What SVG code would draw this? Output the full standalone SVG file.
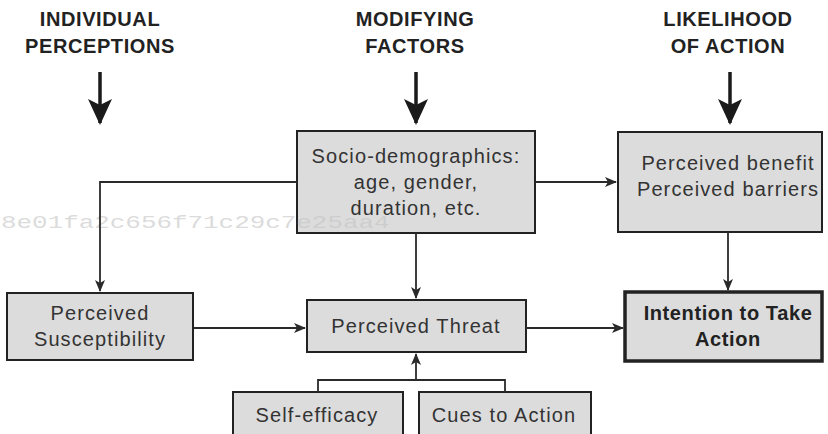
<svg xmlns="http://www.w3.org/2000/svg" width="828" height="434" viewBox="0 0 828 434">
  <defs>
    <style>
      .box { fill: #dcdcdc; stroke: #222; stroke-width: 2; }
      .box-strong { fill: #dcdcdc; stroke: #222; stroke-width: 3.5; }
      .lbl { font-family: "Liberation Sans", Arial, sans-serif; font-size: 20px; fill: #333; text-anchor: middle; letter-spacing: 1.1px; }
      .lbl-bold { font-family: "Liberation Sans", Arial, sans-serif; font-size: 20px; font-weight: bold; fill: #222; text-anchor: middle; letter-spacing: 0.6px; }
      .head { font-family: "Liberation Sans", Arial, sans-serif; font-size: 20px; font-weight: bold; fill: #222; text-anchor: middle; letter-spacing: 0.6px; }
      .wire { fill: none; stroke: #2a2a2a; stroke-width: 1.8; }
      .big { fill: none; stroke: #1a1a1a; stroke-width: 3.5; }
      .mark { font-family: "Liberation Mono", "Courier New", monospace; font-size: 18px; fill: #c4c4c4; fill-opacity: 0.6; }
    </style>
    <marker id="arr" markerWidth="12" markerHeight="10" refX="11" refY="5" orient="auto" markerUnits="userSpaceOnUse">
      <path d="M0,0 L12,5 L0,10 L3,5 Z" fill="#2a2a2a"/>
    </marker>
    <marker id="arrBig" markerWidth="26" markerHeight="24" refX="24" refY="12" orient="auto" markerUnits="userSpaceOnUse">
      <path d="M0,0 L26,12 L0,24 L6,12 Z" fill="#1a1a1a"/>
    </marker>
  </defs>

  <rect width="828" height="434" fill="#fff"/>

  <!-- column headings -->
  <g id="heading-individual">
    <text class="head" x="100" y="26">INDIVIDUAL</text>
    <text class="head" x="100" y="53">PERCEPTIONS</text>
  </g>
  <g id="heading-modifying">
    <text class="head" x="415" y="26">MODIFYING</text>
    <text class="head" x="415" y="53">FACTORS</text>
  </g>
  <g id="heading-likelihood">
    <text class="head" x="728" y="26">LIKELIHOOD</text>
    <text class="head" x="728" y="53">OF ACTION</text>
  </g>

  <!-- nodes -->
  <g id="socio-demographics">
    <rect class="box" x="297" y="131" width="238" height="102"/>
    <text class="lbl" x="416" y="163">Socio-demographics:</text>
    <text class="lbl" x="416" y="189">age, gender,</text>
    <text class="lbl" x="416" y="215">duration, etc.</text>
  </g>
  <g id="benefits-barriers">
    <rect class="box" x="618" y="132" width="204" height="100"/>
    <text class="lbl" x="728" y="170">Perceived benefit</text>
    <text class="lbl" x="728" y="196">Perceived barriers</text>
  </g>
  <g id="susceptibility">
    <rect class="box" x="7" y="293" width="186" height="67"/>
    <text class="lbl" x="100" y="320">Perceived</text>
    <text class="lbl" x="100" y="346">Susceptibility</text>
  </g>
  <g id="threat">
    <rect class="box" x="307" y="300" width="219" height="52"/>
    <text class="lbl" x="416" y="333">Perceived Threat</text>
  </g>
  <g id="intention">
    <rect class="box-strong" x="625" y="292" width="197" height="69"/>
    <text class="lbl-bold" x="728" y="320">Intention to Take</text>
    <text class="lbl-bold" x="728" y="346">Action</text>
  </g>
  <g id="self-efficacy">
    <rect class="box" x="233" y="392" width="170" height="50"/>
    <text class="lbl" x="317" y="422">Self-efficacy</text>
  </g>
  <g id="cues-to-action">
    <rect class="box" x="419" y="392" width="172" height="50"/>
    <text class="lbl" x="504" y="422">Cues to Action</text>
  </g>

  <!-- faint identifier string, lying over the upper box edge -->
  <text class="mark" transform="translate(1,228) scale(1.44,1)" x="0" y="0">8e01fa2c656f71c29c7e25aa4</text>

  <!-- connectors -->
  <g id="connectors">
    <line class="big" x1="100" y1="72" x2="100" y2="123" marker-end="url(#arrBig)"/>
    <line class="big" x1="416" y1="72" x2="416" y2="123" marker-end="url(#arrBig)"/>
    <line class="big" x1="730" y1="72" x2="730" y2="123" marker-end="url(#arrBig)"/>

    <polyline class="wire" points="297,182 100,182 100,291" marker-end="url(#arr)"/>
    <line class="wire" x1="535" y1="182" x2="616" y2="182" marker-end="url(#arr)"/>
    <line class="wire" x1="416" y1="233" x2="416" y2="298" marker-end="url(#arr)"/>
    <line class="wire" x1="728" y1="232" x2="728" y2="290" marker-end="url(#arr)"/>
    <line class="wire" x1="194" y1="328" x2="305" y2="328" marker-end="url(#arr)"/>
    <line class="wire" x1="526" y1="328" x2="623" y2="328" marker-end="url(#arr)"/>
    <polyline class="wire" points="318,392 318,380 505,380 505,392"/>
    <line class="wire" x1="416" y1="380" x2="416" y2="354" marker-end="url(#arr)"/>
  </g>
</svg>
